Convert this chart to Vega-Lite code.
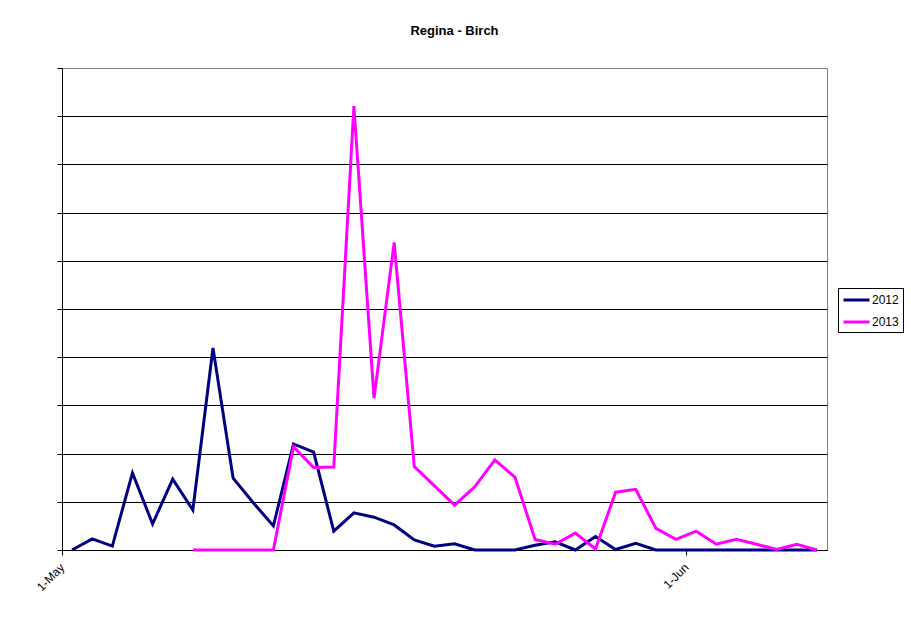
{
  "$schema": "https://vega.github.io/schema/vega-lite/v6.json",
  "width": 765,
  "height": 482,
  "autosize": {"type": "none"},
  "padding": {"left": 62, "top": 68, "right": 84, "bottom": 73},
  "background": "white",
  "title": {"text": "Regina - Birch", "anchor": "middle", "dx": 10, "offset": 30, "font": "Liberation Sans", "fontSize": 13, "fontWeight": "bold", "color": "black"},
  "config": {
    "view": {"stroke": "#808080", "strokeWidth": 1},
    "font": "Liberation Sans"
  },
  "data": {"values": [
    {"date": "2012-05-01T00:00:00", "year": "2012", "value": 0},
    {"date": "2012-05-02T00:00:00", "year": "2012", "value": 2.3},
    {"date": "2012-05-03T00:00:00", "year": "2012", "value": 0.8},
    {"date": "2012-05-04T00:00:00", "year": "2012", "value": 16},
    {"date": "2012-05-05T00:00:00", "year": "2012", "value": 5.4},
    {"date": "2012-05-06T00:00:00", "year": "2012", "value": 14.7},
    {"date": "2012-05-07T00:00:00", "year": "2012", "value": 8.3},
    {"date": "2012-05-08T00:00:00", "year": "2012", "value": 41.9},
    {"date": "2012-05-09T00:00:00", "year": "2012", "value": 14.9},
    {"date": "2012-05-10T00:00:00", "year": "2012", "value": 9.8},
    {"date": "2012-05-11T00:00:00", "year": "2012", "value": 5.0},
    {"date": "2012-05-12T00:00:00", "year": "2012", "value": 22},
    {"date": "2012-05-13T00:00:00", "year": "2012", "value": 20.3},
    {"date": "2012-05-14T00:00:00", "year": "2012", "value": 3.9},
    {"date": "2012-05-15T00:00:00", "year": "2012", "value": 7.7},
    {"date": "2012-05-16T00:00:00", "year": "2012", "value": 6.8},
    {"date": "2012-05-17T00:00:00", "year": "2012", "value": 5.2},
    {"date": "2012-05-18T00:00:00", "year": "2012", "value": 2.1},
    {"date": "2012-05-19T00:00:00", "year": "2012", "value": 0.8},
    {"date": "2012-05-20T00:00:00", "year": "2012", "value": 1.3},
    {"date": "2012-05-21T00:00:00", "year": "2012", "value": 0},
    {"date": "2012-05-22T00:00:00", "year": "2012", "value": 0},
    {"date": "2012-05-23T00:00:00", "year": "2012", "value": 0},
    {"date": "2012-05-24T00:00:00", "year": "2012", "value": 1.0},
    {"date": "2012-05-25T00:00:00", "year": "2012", "value": 1.7},
    {"date": "2012-05-26T00:00:00", "year": "2012", "value": 0},
    {"date": "2012-05-27T00:00:00", "year": "2012", "value": 2.8},
    {"date": "2012-05-28T00:00:00", "year": "2012", "value": 0.1},
    {"date": "2012-05-29T00:00:00", "year": "2012", "value": 1.4},
    {"date": "2012-05-30T00:00:00", "year": "2012", "value": 0},
    {"date": "2012-05-31T00:00:00", "year": "2012", "value": 0},
    {"date": "2012-06-01T00:00:00", "year": "2012", "value": 0},
    {"date": "2012-06-02T00:00:00", "year": "2012", "value": 0},
    {"date": "2012-06-03T00:00:00", "year": "2012", "value": 0},
    {"date": "2012-06-04T00:00:00", "year": "2012", "value": 0},
    {"date": "2012-06-05T00:00:00", "year": "2012", "value": 0},
    {"date": "2012-06-06T00:00:00", "year": "2012", "value": 0},
    {"date": "2012-06-07T00:00:00", "year": "2012", "value": 0},
    {"date": "2013-05-07T00:00:00", "year": "2013", "value": 0},
    {"date": "2013-05-08T00:00:00", "year": "2013", "value": 0},
    {"date": "2013-05-09T00:00:00", "year": "2013", "value": 0},
    {"date": "2013-05-10T00:00:00", "year": "2013", "value": 0},
    {"date": "2013-05-11T00:00:00", "year": "2013", "value": 0},
    {"date": "2013-05-12T00:00:00", "year": "2013", "value": 21.4},
    {"date": "2013-05-13T00:00:00", "year": "2013", "value": 17.1},
    {"date": "2013-05-14T00:00:00", "year": "2013", "value": 17.2},
    {"date": "2013-05-15T00:00:00", "year": "2013", "value": 92.1},
    {"date": "2013-05-16T00:00:00", "year": "2013", "value": 31.5},
    {"date": "2013-05-17T00:00:00", "year": "2013", "value": 63.8},
    {"date": "2013-05-18T00:00:00", "year": "2013", "value": 17.3},
    {"date": "2013-05-19T00:00:00", "year": "2013", "value": 13.3},
    {"date": "2013-05-20T00:00:00", "year": "2013", "value": 9.3},
    {"date": "2013-05-21T00:00:00", "year": "2013", "value": 13.1},
    {"date": "2013-05-22T00:00:00", "year": "2013", "value": 18.7},
    {"date": "2013-05-23T00:00:00", "year": "2013", "value": 15.1},
    {"date": "2013-05-24T00:00:00", "year": "2013", "value": 2.2},
    {"date": "2013-05-25T00:00:00", "year": "2013", "value": 1.2},
    {"date": "2013-05-26T00:00:00", "year": "2013", "value": 3.5},
    {"date": "2013-05-27T00:00:00", "year": "2013", "value": 0.2},
    {"date": "2013-05-28T00:00:00", "year": "2013", "value": 12.0},
    {"date": "2013-05-29T00:00:00", "year": "2013", "value": 12.6},
    {"date": "2013-05-30T00:00:00", "year": "2013", "value": 4.5},
    {"date": "2013-05-31T00:00:00", "year": "2013", "value": 2.2},
    {"date": "2013-06-01T00:00:00", "year": "2013", "value": 3.9},
    {"date": "2013-06-02T00:00:00", "year": "2013", "value": 1.2},
    {"date": "2013-06-03T00:00:00", "year": "2013", "value": 2.2},
    {"date": "2013-06-04T00:00:00", "year": "2013", "value": 1.2},
    {"date": "2013-06-05T00:00:00", "year": "2013", "value": 0.1},
    {"date": "2013-06-06T00:00:00", "year": "2013", "value": 1.2},
    {"date": "2013-06-07T00:00:00", "year": "2013", "value": 0}
  ]},
  "mark": {"type": "line", "strokeWidth": 3, "clip": false},
  "encoding": {
    "x": {
      "field": "date", "type": "temporal", "timeUnit": "monthdate", "bandPosition": 0.5,
      "scale": {"domain": [{"year": 2012, "month": 5, "date": 1}, {"year": 2012, "month": 6, "date": 8}]},
      "axis": {
        "title": null, "grid": false,
        "values": [{"year": 2012, "month": 5, "date": 1}, {"year": 2012, "month": 6, "date": 1}],
        "format": "%-d-%b", "labelAngle": -45, "labelAlign": "right", "labelBaseline": "middle",
        "labelPadding": 10, "labelFont": "Liberation Sans", "labelFontSize": 12, "labelColor": "black",
        "domainColor": "black", "domainWidth": 1, "tickColor": "black", "tickSize": 5
      }
    },
    "y": {
      "field": "value", "type": "quantitative",
      "scale": {"domain": [0, 100], "nice": false},
      "axis": {
        "title": null, "labels": false,
        "values": [0, 10, 20, 30, 40, 50, 60, 70, 80, 90, 100],
        "grid": true,
        "gridColor": {"condition": {"test": "datum.value === 100", "value": "#808080"}, "value": "black"},
        "gridOpacity": 1, "gridWidth": 1,
        "domainColor": "black", "domainWidth": 1, "tickColor": "black", "tickSize": 5
      }
    },
    "color": {
      "field": "year", "type": "nominal",
      "scale": {"domain": ["2012", "2013"], "range": ["#000080", "#FF00FF"]},
      "legend": {
        "title": null, "orient": "none", "legendX": 776, "legendY": 220,
        "symbolType": "M-2,0H2", "symbolSize": 169, "symbolStrokeWidth": 3, "symbolOffset": 6.5,
        "labelFont": "Liberation Sans", "labelFontSize": 12, "labelColor": "black", "labelOffset": 7.5,
        "strokeColor": "black", "padding": 4, "rowPadding": 8, "fillColor": "white"
      }
    }
  }
}
